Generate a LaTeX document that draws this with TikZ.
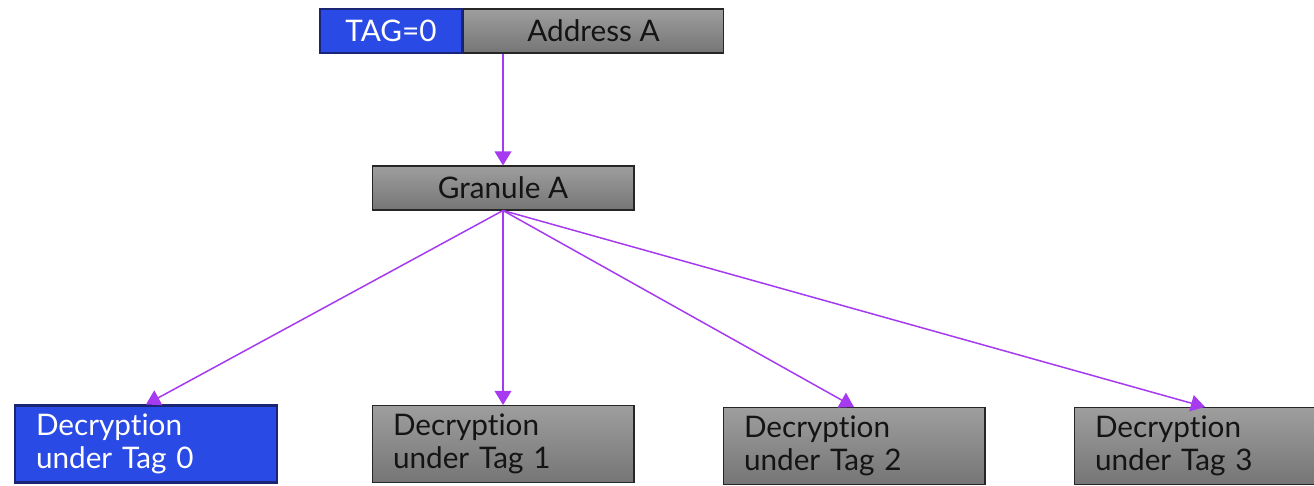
\documentclass[tikz,border=0pt]{standalone}
\usepackage{fontspec}
\setmainfont{Lato}[Ligatures={NoCommon}]
\usetikzlibrary{arrows.meta, positioning}
\definecolor{tagblue}{HTML}{2A4AE6}
\definecolor{tagedge}{HTML}{1A2575}
\definecolor{linkpurple}{HTML}{A53AF0}
\tikzset{
  % boxes
  box/.style={rectangle, inner sep=0pt, font=\fontsize{16.9}{19}\selectfont, minimum height=0.88cm},
  graybox/.style={box, draw=black!85, line width=0.6pt, top color=black!38, bottom color=black!54, text=black!92},
  bluebox/.style={box, draw=tagedge, line width=1.2pt, fill=tagblue, text=white},
  decbox/.style={minimum width=5.24cm, minimum height=1.54cm, text width=4.4cm, inner xsep=0.42cm, align=left},
  % connectors
  link/.style={-{Triangle[length=8pt, width=9.5pt]}, draw=linkpurple, line width=0.85pt},
}
\begin{document}
\begin{tikzpicture}[x=0.02cm, y=-0.02cm]
  \useasboundingbox (0,0) rectangle (1314,485);

  % address with its tag
  \node[bluebox, minimum width=2.84cm] (tag) at (391,31) {TAG=0};
  \node[graybox, minimum width=5.2cm, right=0pt of tag] (addr) {Address A};

  % granule
  \node[graybox, minimum width=5.24cm] (granule) at (503,188) {Granule A};

  % decryptions
  \node[bluebox, decbox] (dec0) at (146,444) {Decryption\\under Tag 0};
  \node[graybox, decbox] (dec1) at (503,444) {Decryption\\under Tag 1};
  \node[graybox, decbox] (dec2) at (854,446) {Decryption\\under Tag 2};
  \node[graybox, decbox] (dec3) at (1205,446) {Decryption\\under Tag 3};

  % arrows
  \draw[link] (addr.south -| granule.north) -- (granule.north);
  \draw[link] (granule.south) -- (dec0.north);
  \draw[link] (granule.south) -- (dec1.north);
  \draw[link] (granule.south) -- (dec2.north);
  \draw[link] (granule.south) -- (dec3.north);
\end{tikzpicture}
\end{document}
